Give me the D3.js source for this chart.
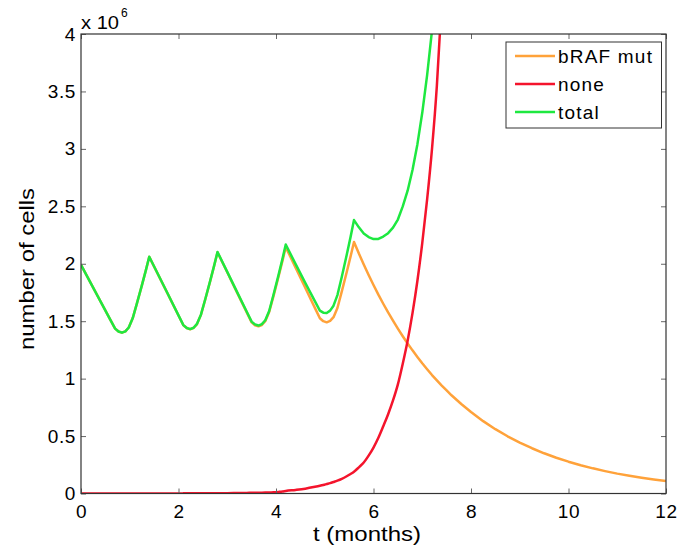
<!DOCTYPE html>
<html>
<head>
<meta charset="utf-8">
<script src="https://cdn.jsdelivr.net/npm/d3@7"></script>
<style>
html, body { margin: 0; padding: 0; background: #fff; }
svg { display: block; font-family: "Liberation Sans", Arial, Helvetica, sans-serif; }
</style>
</head>
<body>
<svg id="chart" width="682" height="551"></svg>
<script>
// time points (months)
const tValues = [
  0,0.2,0.4,0.6,0.7,0.77,0.84,0.91,0.98,1.06,1.15,1.25,1.33,
  1.4,1.6,1.8,2.0,2.1,2.17,2.24,2.31,2.38,2.46,2.55,2.65,2.73,
  2.8,3.0,3.2,3.4,3.5,3.57,3.64,3.71,3.78,3.86,3.95,4.05,4.13,
  4.2,4.4,4.6,4.8,4.9,4.97,5.04,5.11,5.18,5.26,5.35,5.45,5.53,
  5.6,5.7,5.8,5.9,6.0,6.1,6.2,6.3,6.4,6.5,6.6,6.7,6.8,6.9,7.0,7.1,7.2,7.3,7.4,7.5,7.6,
  7.8,8.0,8.25,8.5,8.75,9.0,9.25,9.5,9.75,10.0,10.25,10.5,10.75,11.0,11.25,11.5,11.75,12.0];

// number of cells (x 10^6), one value per time point (shorter series end off the top of the chart)
const brafMut = [
  1.99,1.831,1.673,1.514,1.435,1.41,1.40,1.412,1.445,1.525,1.659,1.814,1.942,
  2.06,1.89,1.72,1.55,1.465,1.44,1.43,1.442,1.475,1.555,1.691,1.849,1.98,
  2.10,1.926,1.751,1.577,1.49,1.465,1.455,1.467,1.50,1.58,1.721,1.885,2.021,
  2.145,1.968,1.791,1.614,1.525,1.50,1.49,1.502,1.535,1.615,1.759,1.926,2.064,
  2.19,2.089,1.994,1.902,1.815,1.731,1.652,1.576,1.504,1.435,1.369,1.306,1.246,1.189,1.134,1.082,1.031,0.985,0.940,0.897,0.855,
  0.779,0.709,0.630,0.560,0.498,0.443,0.394,0.350,0.311,0.277,0.246,0.219,0.195,0.173,0.154,0.137,0.122,0.108];

const none = [
  0.0002,0.0002,0.0003,0.0003,0.0003,0.0003,0.0004,0.0004,0.0004,0.0005,0.0005,0.0005,0.0006,
  0.0006,0.0008,0.0009,0.001,0.0011,0.0012,0.0013,0.0014,0.0015,0.0016,0.0018,0.002,0.0022,
  0.0023,0.003,0.004,0.005,0.006,0.0065,0.007,0.0075,0.008,0.009,0.011,0.014,0.017,
  0.022,0.031,0.042,0.058,0.067,0.074,0.082,0.09,0.10,0.112,0.128,0.15,0.17,
  0.19,0.228,0.27,0.33,0.40,0.485,0.585,0.69,0.81,0.95,1.13,1.33,1.57,1.85,2.18,2.56,3.0,3.55,4.3,5.1];

const total = [
  1.99,1.831,1.673,1.514,1.435,1.41,1.40,1.412,1.445,1.525,1.659,1.814,1.942,
  2.061,1.891,1.721,1.551,1.466,1.441,1.431,1.443,1.477,1.557,1.693,1.851,1.982,
  2.102,1.929,1.755,1.582,1.496,1.472,1.462,1.475,1.508,1.589,1.732,1.899,2.038,
  2.167,1.999,1.833,1.672,1.592,1.574,1.572,1.592,1.635,1.727,1.887,2.076,2.234,
  2.38,2.317,2.264,2.232,2.215,2.216,2.237,2.266,2.314,2.385,2.499,2.636,2.816,3.039,3.314,3.642,4.031,4.535];

const xTicks = [0,2,4,6,8,10,12];
const yTicks = [0,0.5,1,1.5,2,2.5,3,3.5,4];
const yTickLabels = ["0","0.5","1","1.5","2","2.5","3","3.5","4"];
const seriesNames = ["bRAF mut","none","total"];
const seriesColors = ["#ffa23a","#f4142c","#1ee840"];

(function () {
const svg = d3.select("#chart");
const L = 81, R = 666, T = 34, B = 493.5;
const x = d3.scaleLinear().domain([0,12]).range([L,R]);
const y = d3.scaleLinear().domain([0,4]).range([B,T]);

svg.append("defs").append("clipPath").attr("id","clip")
  .append("rect").attr("x",L).attr("y",T).attr("width",R-L).attr("height",B-T);

const seriesData = [brafMut, none, total];
const g = svg.append("g").attr("clip-path","url(#clip)");
seriesData.forEach((vals, i) => {
  const pts = vals.map((v, k) => [tValues[k], v]);
  const line = d3.line().x(d => x(d[0])).y(d => y(d[1]))
    .curve(i === 1 ? d3.curveMonotoneX : d3.curveLinear);
  g.append("path").datum(pts)
    .attr("d", line)
    .attr("fill","none")
    .attr("stroke", seriesColors[i])
    .attr("stroke-width", 2.5)
    .attr("stroke-linejoin","round");
});

const axisColor = "#333";
const tickLen = 5;
const axB = d3.axisBottom(x).tickValues(xTicks).tickSize(-tickLen).tickPadding(11).tickFormat(d3.format("d"));
const axT = d3.axisTop(x).tickValues(xTicks).tickSize(-tickLen).tickFormat("");
const axL = d3.axisLeft(y).tickValues(yTicks).tickSize(-tickLen).tickPadding(5).tickFormat((d,i) => yTickLabels[i]);
const axR = d3.axisRight(y).tickValues(yTicks).tickSize(-tickLen).tickFormat("");

function style(sel) {
  sel.select(".domain").remove();
  sel.selectAll(".tick line").attr("stroke", "#666").attr("stroke-width", 1);
  sel.selectAll(".tick text").attr("fill","#000").style("font-size","19px")
    .style("letter-spacing","0.6px")
    .style("font-family","'Liberation Sans', Arial, sans-serif");
}
svg.append("g").attr("transform",`translate(0,${B})`).call(axB).call(style);
svg.append("g").attr("transform",`translate(0,${T})`).call(axT).call(style);
svg.append("g").attr("transform",`translate(${L},0)`).call(axL).call(style);
svg.append("g").attr("transform",`translate(${R},0)`).call(axR).call(style);
svg.append("rect").attr("x",L).attr("y",T).attr("width",R-L).attr("height",B-T)
  .attr("fill","none").attr("stroke",axisColor).attr("stroke-width",1.2);

const ex = svg.append("text").attr("x", 81).attr("y", 29).attr("fill","#000").style("font-size","18px");
ex.append("tspan").attr("textLength", 38).attr("lengthAdjust","spacingAndGlyphs").text("x 10");
ex.append("tspan").attr("x", 121).attr("y", 17).style("font-size","12px").text("6");

svg.append("text").attr("x", 313).attr("y", 541)
  .attr("textLength", 108).attr("lengthAdjust","spacingAndGlyphs")
  .attr("fill","#000").style("font-size","20px").text("t (months)");
svg.append("text").attr("transform", `translate(34,350) rotate(-90)`)
  .attr("textLength", 162).attr("lengthAdjust","spacingAndGlyphs")
  .attr("fill","#000").style("font-size","20px").text("number of cells");

const lg = svg.append("g");
lg.append("rect").attr("x", 506).attr("y", 42).attr("width", 155.5).attr("height", 86)
  .attr("fill","#fff").attr("stroke","#333").attr("stroke-width",1);
seriesNames.forEach((name, i) => {
  const yy = 56 + i*28;
  lg.append("line").attr("x1", 515).attr("x2", 555).attr("y1", yy).attr("y2", yy)
    .attr("stroke", seriesColors[i]).attr("stroke-width", 2.5);
  lg.append("text").attr("x", 558).attr("y", yy + 6.5).attr("fill","#000")
    .style("font-size","19px").style("letter-spacing","1.2px").text(name);
});
})();
</script>
</body>
</html>
